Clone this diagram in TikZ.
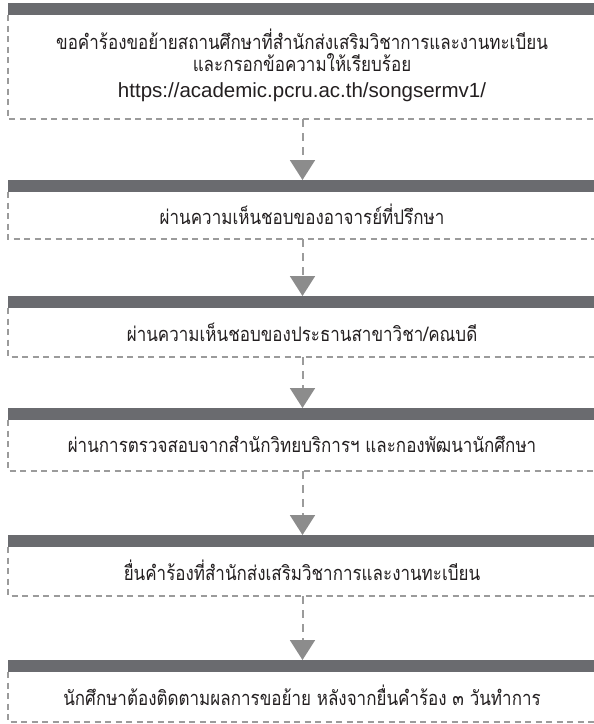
\documentclass[tikz,border=0pt]{standalone}
\usepackage{fontspec}
\usepackage{tikz}
\usetikzlibrary{arrows.meta}
\newfontfamily\thaifont[Script=Thai,FakeStretch=0.85]{Loma}
\newfontfamily\urlfont{Liberation Sans}
\definecolor{bargray}{HTML}{6A6B6F}
\definecolor{dashgray}{HTML}{9B9B9B}
\definecolor{tipgray}{HTML}{8C8C8C}
\definecolor{inkgray}{HTML}{231F20}

\begin{document}
\begin{tikzpicture}[x=1pt,y=-1pt,
    bar/.style={fill=bargray},
    frame/.style={draw=dashgray,line width=1.3pt,dash pattern=on 6pt off 4.5pt},
    flow/.style={draw=dashgray,line width=2pt,dash pattern=on 8pt off 6pt,
      -{Triangle[width=25pt,length=20pt,color=tipgray,fill=tipgray]}},
    steptext/.style={text=inkgray,align=center,inner sep=0pt,
      font=\thaifont\fontsize{20}{23.3}\selectfont},
    urltext/.style={text=inkgray,inner sep=0pt,
      font=\urlfont\fontsize{20.5}{23.3}\selectfont}]
    \useasboundingbox (0,0) rectangle (594,724);
    % box 1
    \fill[bar] (8,3) rectangle (594,15);
    \draw[frame] (8,15) -- (8,119) -- (594,119);
    \node[steptext,anchor=base] (s1) at (302,49) {ขอคำร้องขอย้ายสถานศึกษาที่สำนักส่งเสริมวิชาการและงานทะเบียน};
    \node[steptext,anchor=base] (s1b) at (302,71) {และกรอกข้อความให้เรียบร้อย};
    \node[urltext,anchor=base] (s1c) at (302,97.5) {https://academic.pcru.ac.th/songsermv1/};
    % box 2
    \fill[bar] (8,180) rectangle (594,192);
    \draw[frame] (8,192) -- (8,239) -- (594,239);
    \node[steptext] (s2) at (302,214) {ผ่านความเห็นชอบของอาจารย์ที่ปรึกษา};
    % box 3
    \fill[bar] (8,296) rectangle (594,308);
    \draw[frame] (8,308) -- (8,357) -- (594,357);
    \node[steptext] (s3) at (302,332) {ผ่านความเห็นชอบของประธานสาขาวิชา/คณบดี};
    % box 4
    \fill[bar] (8,408) rectangle (594,420);
    \draw[frame] (8,420) -- (8,471) -- (594,471);
    \node[steptext] (s4) at (302,444) {ผ่านการตรวจสอบจากสำนักวิทยบริการฯ และกองพัฒนานักศึกษา};
    % box 5
    \fill[bar] (8,535) rectangle (594,547);
    \draw[frame] (8,547) -- (8,596) -- (594,596);
    \node[steptext] (s5) at (302,570) {ยื่นคำร้องที่สำนักส่งเสริมวิชาการและงานทะเบียน};
    % box 6
    \fill[bar] (8,660) rectangle (594,672);
    \draw[frame] (8,672) -- (8,722) -- (594,722);
    \node[steptext] (s6) at (302,695) {นักศึกษาต้องติดตามผลการขอย้าย หลังจากยื่นคำร้อง ๓ วันทำการ};
    % arrows
    \coordinate (b1) at (302.5,119);  \coordinate (t2) at (302.5,180);
    \coordinate (b2) at (302.5,239);  \coordinate (t3) at (302.5,296);
    \coordinate (b3) at (302.5,357);  \coordinate (t4) at (302.5,408);
    \coordinate (b4) at (302.5,471);  \coordinate (t5) at (302.5,535);
    \coordinate (b5) at (302.5,596);  \coordinate (t6) at (302.5,660);
    \draw[flow] (b1) -- (t2);
    \draw[flow] (b2) -- (t3);
    \draw[flow] (b3) -- (t4);
    \draw[flow] (b4) -- (t5);
    \draw[flow] (b5) -- (t6);
\end{tikzpicture}
\end{document}
